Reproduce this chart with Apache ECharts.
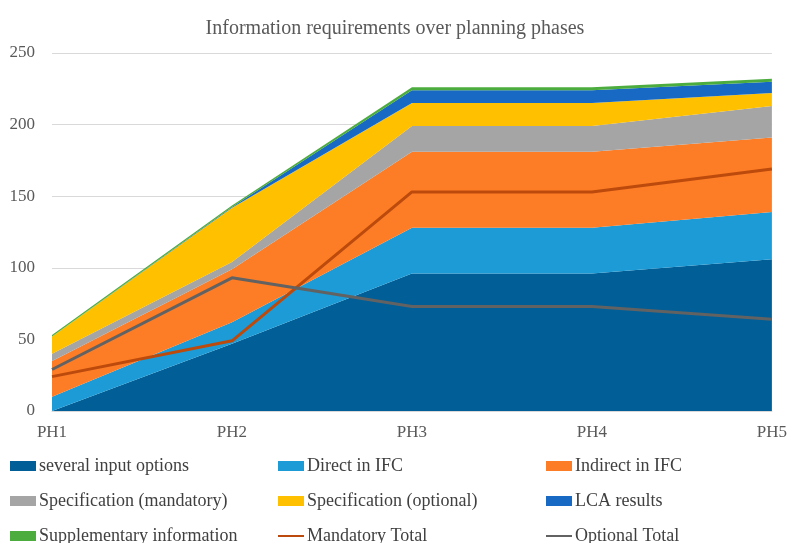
<!DOCTYPE html>
<html>
<head>
<meta charset="utf-8">
<script src="https://cdn.jsdelivr.net/npm/echarts@6/dist/echarts.min.js"></script>
<style>
  html, body { margin: 0; padding: 0; background: #fff; }
  #chart { width: 790px; height: 543px; }
</style>
</head>
<body>
<div id="chart"></div>
<script>
const phases = ['PH1', 'PH2', 'PH3', 'PH4', 'PH5'];

const severalInput = [0, 47, 96, 96, 106];
const directIfc = [10, 15, 32, 32, 33];
const indirectIfc = [25, 37, 53, 53, 52];
const specMandatory = [5, 5, 18, 18, 22];
const specOptional = [12, 38, 16, 16, 9];
const lcaResults = [0, 0.5, 9, 9, 8];
const supplementary = [1, 1, 2, 2, 2];
const mandatoryTotal = [24, 49, 153, 153, 169];
const optionalTotal = [29, 93, 73, 73, 64];

const yTicks = [0, 50, 100, 150, 200, 250];

const font = "'Liberation Serif', 'DejaVu Serif', serif";

const areaSeries = [
  { name: 'several input options', data: severalInput, color: '#025E96' },
  { name: 'Direct in IFC', data: directIfc, color: '#1C9BD7' },
  { name: 'Indirect in IFC', data: indirectIfc, color: '#FD7D26' },
  { name: 'Specification (mandatory)', data: specMandatory, color: '#A5A5A5' },
  { name: 'Specification (optional)', data: specOptional, color: '#FFC000' },
  { name: 'LCA results', data: lcaResults, color: '#1769C4' },
  { name: 'Supplementary information', data: supplementary, color: '#4CAD3E' }
];

const lineSeries = [
  { name: 'Mandatory Total', data: mandatoryTotal, color: '#BC4A0C' },
  { name: 'Optional Total', data: optionalTotal, color: '#626262' }
];

const series = areaSeries.map((s) => ({
  name: s.name,
  type: 'line',
  stack: 'total',
  data: s.data,
  symbol: 'none',
  color: s.color,
  lineStyle: { width: 0 },
  areaStyle: { color: s.color, opacity: 1 },
  emphasis: { disabled: true }
})).concat(lineSeries.map((s) => ({
  name: s.name,
  type: 'line',
  data: s.data,
  symbol: 'none',
  color: s.color,
  lineStyle: { color: s.color, width: 3 },
  z: 5,
  emphasis: { disabled: true }
})));

// area items get a filled box, line items only the stroke (hide the default dot)
const allNames = areaSeries.map((s) => ({ name: s.name, icon: 'rect' }))
  .concat(lineSeries.map((s) => ({ name: s.name, itemStyle: { opacity: 0 } })));

// legend in three columns, filled row by row
const columns = [0, 1, 2].map((c) => [allNames[c], allNames[c + 3], allNames[c + 6]]);
const columnLeft = [10, 277, 545];

const legends = columns.map((items, i) => ({
  orient: 'vertical',
  left: columnLeft[i],
  top: 457,
  height: 92,
  padding: 0,
  itemWidth: 26,
  itemHeight: 10,
  itemGap: 17,
  selectedMode: false,
  textStyle: { fontFamily: font, fontSize: 18, color: '#404040', padding: [0, 0, 0, -2] },
  data: items
}));

const chart = echarts.init(document.getElementById('chart'));
chart.setOption({
  animation: false,
  title: {
    text: 'Information requirements over planning phases',
    left: 'center',
    top: 14,
    textStyle: { fontFamily: font, fontSize: 20, fontWeight: 'normal', color: '#595959' }
  },
  legend: legends,
  grid: { left: 52, right: 18, top: 53, bottom: 132 },
  xAxis: {
    type: 'category',
    data: phases,
    boundaryGap: false,
    axisLine: { show: true, lineStyle: { color: '#D9D9D9', width: 1 } },
    axisTick: { show: false },
    axisLabel: { fontFamily: font, fontSize: 17, color: '#595959', margin: 13 }
  },
  yAxis: {
    type: 'value',
    min: yTicks[0],
    max: yTicks[yTicks.length - 1],
    interval: 50,
    axisLine: { show: false },
    axisTick: { show: false },
    splitLine: { lineStyle: { color: '#D9D9D9', width: 1 } },
    axisLabel: { fontFamily: font, fontSize: 17, color: '#595959', margin: 17 }
  },
  series: series
});
</script>
</body>
</html>
